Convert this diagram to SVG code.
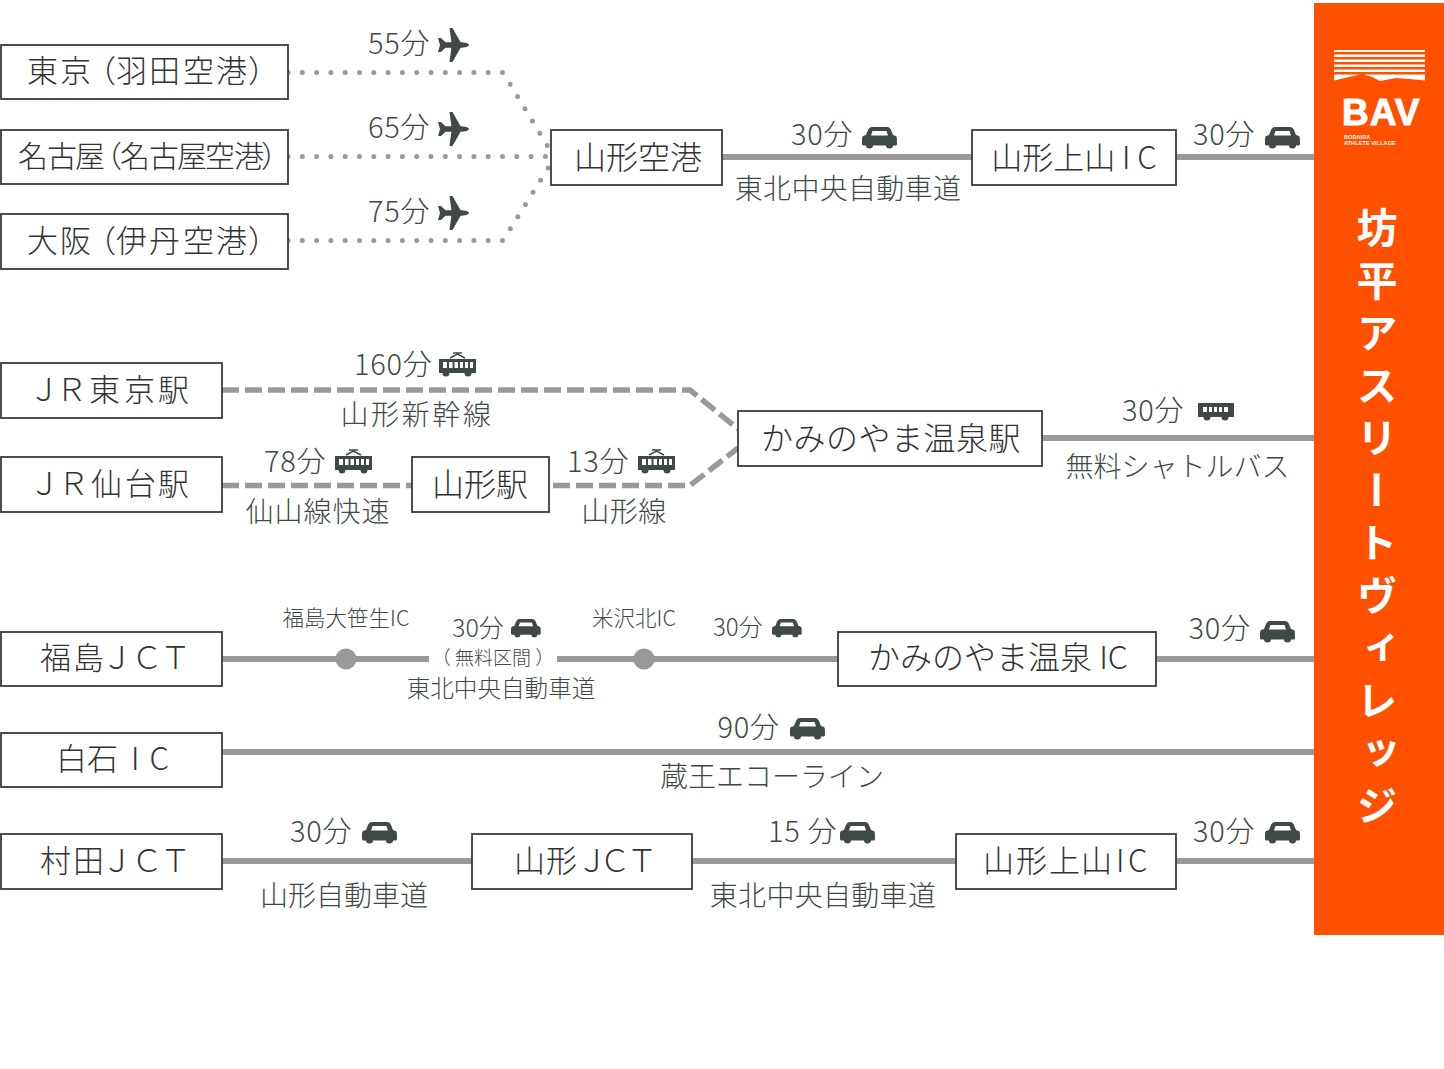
<svg xmlns="http://www.w3.org/2000/svg" xmlns:xlink="http://www.w3.org/1999/xlink" width="1444" height="1069" viewBox="0 0 1444 1069">
<style>
text{font-family:"Noto Sans CJK JP","Noto Sans",sans-serif;font-weight:300;fill:#3f4a44}
.box{fill:#fff;stroke:#3e3a39;stroke-width:1.800}
.n{font-size:32px;fill:#333;text-anchor:middle;font-weight:300}
.p{font-size:31px;fill:#333;font-weight:300}
.t{font-size:29px;letter-spacing:.700px}
.l{font-size:28px;text-anchor:middle}
.s{font-size:21.500px;text-anchor:middle}
.line{fill:none;stroke:#999;stroke-width:6}
.dash{fill:none;stroke:#999;stroke-width:5.500;stroke-dasharray:17 6}
.dot{fill:none;stroke:#999;stroke-width:5;stroke-linecap:round;stroke-dasharray:0 14.300}
.ic{fill:#3f4a44}
</style>
<defs>
<g id="plane"><path class="ic" d="M0-7 3-7 7.500-2.800 22-2.800C27-2.800 31-1.500 31 0 31 1.500 27 2.800 22 2.800L7.500 2.800 3 7 0 7 2 0ZM11.500-17 14.500-17 23-2 23 2 14.500 17 11.500 17 14-2 14 2Z"/></g>
<g id="car"><path class="ic" fill-rule="evenodd" d="M10 0H25C27 0 28 1 29 3L31 8 34 9C35 10 35 11 35 17 35 18 34 18.500 33 18.500H31A3.500 3 0 0 1 24 18.500H11A3.500 3 0 0 1 4 18.500H2C1 18.500 0 18 0 17 0 11 0 10 1 9L4 8 6 3C7 1 8 0 10 0ZM10.500 4 9 8.500H26L24.500 4Z"/></g>
<g id="train"><path class="ic" d="M1 7H38V21H33.500A3.500 3.500 0 0 1 26.500 21H11.500A3.500 3.500 0 0 1 4.500 21H1Z"/><path d="M12 6 19.500 2 27 6M15 1H24" fill="none" stroke="#3f4a44" stroke-width="1.500"/><path fill="#fff" d="M5 10H9V16H5ZM11 10H14.500V16H11ZM16.500 10H20V16H16.500ZM22 10H25V16H22ZM27 10H30V16H27ZM32 10H35V16H32Z"/></g>
<g id="bus"><path class="ic" d="M0 0H36V14H30.500A3.500 3.500 0 0 1 23.500 14H12.500A3.500 3.500 0 0 1 5.500 14H0Z"/><path fill="#fff" d="M5 4H9V9H5ZM11 4H14V9H11ZM16 4H19V9H16ZM21 4H24V9H21ZM26 4H30V9H26Z"/></g>
</defs>
<rect width="1444" height="1069" fill="#fff"/>

<g id="connectors">
<path class="dot" d="M288 72.500H503L550 150"/>
<path class="dot" d="M288 156.500H550"/>
<path class="dot" d="M288 240.500H503L550 165"/>
<path class="line" d="M722 157H972M1176 157H1314"/>
<path class="dash" d="M222 390H690L738 429"/>
<path class="dash" d="M222 485.500H412M553 485.500H690L738 448"/>
<path class="line" d="M1042 438H1314"/>
<path class="line" d="M222 659H429M557 659H838M1156 659H1314"/>
<circle cx="346" cy="659" r="10.500" fill="#999"/>
<circle cx="644" cy="659" r="10.500" fill="#999"/>
<path class="line" d="M222 752H1314"/>
<path class="line" d="M222 861H472M692 861H956M1176 861H1314"/>
</g>

<g id="n-haneda"><rect class="box" x="1" y="45" width="287" height="54"/><text class="p" x="27 60 85 116 149 183 216 248" y="82">東京（羽田空港）</text></g>
<g id="n-nagoya"><rect class="box" x="1" y="130" width="287" height="54"/><text class="p" style="font-size:30px" x="18 47 75 92 120 149 177 205 234 261" y="166.500">名古屋（名古屋空港）</text></g>
<g id="n-osaka"><rect class="box" x="1" y="214" width="287" height="55"/><text class="p" x="27 60 85 116 149 183 216 248" y="252">大阪（伊丹空港）</text></g>
<g id="n-yamagata-airport"><rect class="box" x="551" y="130" width="171" height="55"/><text class="n" x="638" y="168.500">山形空港</text></g>
<g id="n-kaminoyama-ic1"><rect class="box" x="972" y="130" width="204" height="55"/><text class="n" x="1074" y="168.500" style="font-size:31px">山形上山 I C</text></g>
<g id="n-jr-tokyo"><rect class="box" x="1" y="363" width="221" height="55"/><text class="p" x="28.500 56 89 124 158" y="401">ＪＲ東京駅</text></g>
<g id="n-jr-sendai"><rect class="box" x="1" y="457" width="221" height="55"/><text class="p" x="29 58 91 125 158" y="495">ＪＲ仙台駅</text></g>
<g id="n-yamagata-st"><rect class="box" x="412" y="457" width="137" height="55"/><text class="n" x="480" y="495.500">山形駅</text></g>
<g id="n-kaminoyama-st"><rect class="box" x="738" y="411" width="304" height="55"/><text class="n" x="891" y="449.500" style="letter-spacing:.500px">かみのやま温泉駅</text></g>
<g id="n-fukushima"><rect class="box" x="1" y="632" width="221" height="54"/><text class="p" x="40 73 101.500 131.500 160" y="669">福島ＪＣＴ</text></g>
<g id="n-kaminoyama-ic2"><rect class="box" x="838" y="632" width="318" height="54"/><text class="n" x="998" y="669">かみのやま温泉 IC</text></g>
<g id="n-shiroishi"><rect class="box" x="1" y="733" width="221" height="54"/><text class="p" x="56 87 120 131 140 149.500" y="770">白石 I C</text></g>
<g id="n-murata"><rect class="box" x="1" y="834" width="221" height="55"/><text class="p" x="40 73 101.500 131.500 160" y="872">村田ＪＣＴ</text></g>
<g id="n-yamagata-jct"><rect class="box" x="472" y="834" width="220" height="55"/><text class="p" x="514 546 576.500 599.500 626.500" y="872">山形ＪＣＴ</text></g>
<g id="n-kaminoyama-ic3"><rect class="box" x="956" y="834" width="220" height="55"/><text class="p" x="983 1016 1049 1081 1116 1128" y="872">山形上山IC</text></g>

<g id="labels">
<text class="t" x="368" y="54">55分</text><use xlink:href="#plane" href="#plane" x="438" y="45"/>
<text class="t" x="368" y="138">65分</text><use xlink:href="#plane" href="#plane" x="438" y="129"/>
<text class="t" x="368" y="222">75分</text><use xlink:href="#plane" href="#plane" x="438" y="213"/>
<text class="t" x="791" y="145">30分</text><use xlink:href="#car" href="#car" x="862" y="127"/>
<text class="l" x="848" y="199" style="letter-spacing:.300px">東北中央自動車道</text>
<text class="t" x="1193" y="145">30分</text><use xlink:href="#car" href="#car" x="1265" y="127"/>
<text class="t" x="354" y="375">160分</text><use xlink:href="#train" href="#train" x="438" y="352"/>
<text class="l" x="417" y="425" style="letter-spacing:2.600px">山形新幹線</text>
<text class="t" x="264" y="472">78分</text><use xlink:href="#train" href="#train" x="334" y="449"/>
<text class="l" x="318" y="522" style="letter-spacing:1px">仙山線快速</text>
<text class="t" x="567" y="472">13分</text><use xlink:href="#train" href="#train" x="637" y="449"/>
<text class="l" x="624" y="522" style="letter-spacing:.500px">山形線</text>
<text class="t" x="1122" y="421">30分</text><use xlink:href="#bus" href="#bus" x="1198" y="403"/>
<text class="l" x="1177.500" y="477">無料シャトルバス</text>
<text class="s" x="346" y="626">福島大笹生IC</text>
<text x="452" y="637" style="font-size:25px">30分</text><use xlink:href="#car" href="#car" transform="translate(511 619) scale(.85)"/>
<text x="493" y="665" text-anchor="middle" style="font-size:19px">（ 無料区間 ）</text>
<text x="501" y="697" text-anchor="middle" style="font-size:23.600px">東北中央自動車道</text>
<text class="s" x="634" y="626">米沢北IC</text>
<text x="713" y="636" style="font-size:24px">30分</text><use xlink:href="#car" href="#car" transform="translate(772 619) scale(.85)"/>
<text class="t" x="1188.500" y="639">30分</text><use xlink:href="#car" href="#car" x="1260" y="621"/>
<text class="t" x="717.500" y="738">90分</text><use xlink:href="#car" href="#car" x="790" y="718"/>
<text class="l" x="772" y="787">蔵王エコーライン</text>
<text class="t" x="290" y="842">30分</text><use xlink:href="#car" href="#car" x="362" y="822"/>
<text class="l" x="344" y="906">山形自動車道</text>
<text class="t" x="768" y="842">15 分</text><use xlink:href="#car" href="#car" x="840" y="822"/>
<text class="l" x="823" y="906" style="letter-spacing:.300px">東北中央自動車道</text>
<text class="t" x="1193" y="842">30分</text><use xlink:href="#car" href="#car" x="1265" y="822"/>
</g>

<g id="n-bav">
<rect x="1314" y="3" width="130" height="932" fill="#ff5000"/>
<path fill="#fff" d="M1334 50H1425V52H1334ZM1334 54.500H1425V57H1334ZM1334 59.500H1425V62H1334ZM1334 64.500H1425V67H1334ZM1334 69.500H1425V72H1334ZM1334 74.500H1360L1334 80.500ZM1364 74.500H1425V80.500L1410 79 1396 78 1380 81 1372 77Z"/>
<text x="1342" y="125" style="font-family:'Liberation Sans',sans-serif;font-weight:700;font-size:37px;fill:#fff;stroke:#fff;stroke-width:1;letter-spacing:1px">BAV</text>
<text x="1344" y="138.500" style="font-family:'Liberation Sans',sans-serif;font-weight:700;font-size:5.500px;fill:#fff;letter-spacing:.100px">BODAIRA</text>
<text x="1344" y="145" style="font-family:'Liberation Sans',sans-serif;font-weight:700;font-size:5.500px;fill:#fff;letter-spacing:.100px">ATHLETE VILLAGE</text>
<text x="1377" y="207" style="writing-mode:vertical-rl;font-size:41px;font-weight:700;fill:#fff;letter-spacing:11.500px">坊平アスリートヴィレッジ</text>
</g>
</svg>
